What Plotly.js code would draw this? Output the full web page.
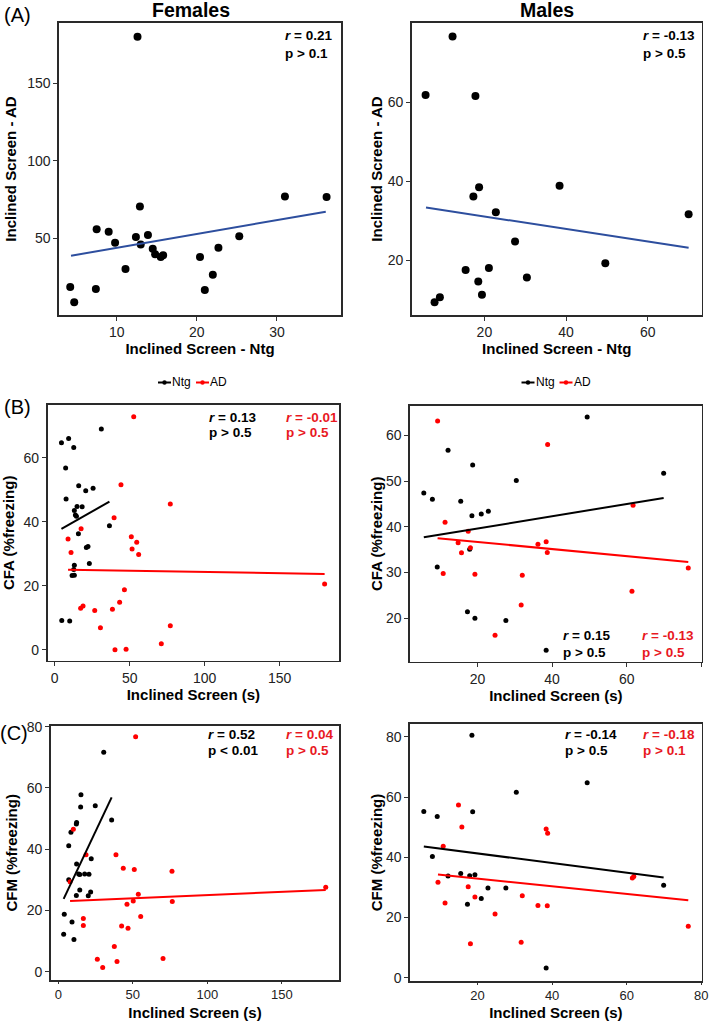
<!DOCTYPE html>
<html><head><meta charset="utf-8">
<script src="https://cdn.plot.ly/plotly-3.0.1.min.js"></script>
<style>html,body{margin:0;padding:0;background:#fff;} #chart{width:709px;height:1021px;}</style>
</head><body><div id="chart"></div>
<script>
// ---------- DATA ----------
// (A) Inclined screen, Ntg vs AD
const femNtgA = [4.2, 4.7, 7.5, 7.4, 9.0, 9.8, 11.1, 12.4, 12.6, 12.9, 13.0, 13.9, 14.5, 14.8, 15.5, 15.8, 20.4, 21.0, 22.0, 22.7, 25.3, 31.0, 36.2];
const femADA  = [18.7, 8.8, 55.8, 17.4, 54.3, 47.2, 30.3, 50.9, 180, 70.6, 46.1, 52.1, 43.3, 39.7, 38.0, 39.1, 38.0, 16.7, 26.6, 44.0, 51.3, 77.0, 76.6];
const femFitAX = [4.3, 36.1];
const femFitAY = [38.8, 67.2];
const maleNtgA = [5.6, 7.8, 9.1, 12.2, 15.4, 17.3, 17.8, 18.5, 18.7, 19.4, 21.1, 22.8, 27.5, 30.4, 38.4, 49.6, 70.0];
const maleADA  = [61.9, 9.4, 10.7, 76.7, 17.6, 36.2, 61.6, 14.7, 38.5, 11.3, 18.1, 32.2, 24.8, 15.7, 38.9, 19.3, 31.7];
const maleFitAX = [5.7, 70.0];
const maleFitAY = [33.4, 23.2];

// (B) CFA
const cfaFemNtgX = [4.5, 9.3, 12.7, 7.3, 31.1, 16.0, 20.7, 25.6, 7.6, 14.9, 18.3, 13.1, 13.8, 14.5, 36.5, 15.8, 21.1, 22.2, 23.1, 13.1, 12.7, 11.6, 13.1, 4.7, 10.0];
const cfaFemNtgY = [64.7, 66.0, 63.2, 56.8, 69.0, 51.3, 49.7, 50.5, 47.1, 44.8, 44.7, 43.5, 42.1, 41.7, 38.8, 36.3, 32.0, 32.3, 27.0, 26.4, 25.1, 23.2, 23.3, 9.2, 9.0];
const cfaFemADX = [52.7, 44.2, 77.1, 39.6, 17.6, 8.9, 51.1, 54.7, 51.6, 56.0, 10.9, 46.5, 43.3, 18.9, 17.3, 26.7, 38.5, 30.5, 77.1, 40.2, 47.6, 71.1, 180.0];
const cfaFemADY = [72.8, 51.6, 45.6, 41.3, 37.8, 34.6, 35.3, 33.6, 31.5, 29.8, 30.4, 18.8, 14.9, 13.7, 13.0, 12.3, 12.7, 6.9, 7.5, 0.0, 0.2, 1.9, 20.6];
const cfaFemNtgFitX = [4.5, 36.5];
const cfaFemNtgFitY = [37.8, 46.3];
const cfaFemADFitX = [8.9, 180.0];
const cfaFemADFitY = [25.0, 23.7];

const cfaMaleNtgX = [5.6, 7.9, 12.1, 18.7, 15.5, 18.5, 21.0, 22.9, 30.4, 9.2, 17.9, 17.3, 19.3, 27.6, 38.4, 49.4, 69.9];
const cfaMaleNtgY = [47.4, 46.0, 56.7, 53.5, 45.6, 42.4, 42.8, 43.4, 50.1, 31.2, 35.1, 21.4, 20.0, 19.5, 13.0, 64.0, 51.7];
const cfaMaleADX = [9.3, 38.8, 11.3, 17.5, 14.8, 18.1, 15.7, 36.2, 38.4, 38.7, 10.8, 19.3, 32.0, 31.7, 24.7, 61.7, 61.4, 76.5];
const cfaMaleADY = [63.1, 58.0, 41.0, 39.0, 36.5, 35.4, 34.3, 36.2, 36.7, 34.4, 29.8, 29.6, 29.4, 22.9, 16.3, 44.7, 25.9, 31.0];
const cfaMaleNtgFitX = [5.6, 69.9];
const cfaMaleNtgFitY = [37.7, 46.3];
const cfaMaleADFitX = [9.3, 76.5];
const cfaMaleADFitY = [37.5, 32.3];

// (C) CFM
const cfmFemNtgX = [30.5, 15.2, 15.0, 24.8, 35.8, 12.3, 12.1, 8.5, 7.0, 22.1, 12.3, 13.7, 14.4, 17.7, 20.6, 7.0, 14.4, 21.7, 12.1, 20.1, 4.0, 9.2, 3.6, 10.5];
const cfmFemNtgY = [71.6, 57.8, 53.8, 54.2, 49.5, 48.7, 48.2, 45.5, 41.1, 36.9, 35.2, 31.9, 31.7, 31.9, 31.8, 30.0, 26.7, 26.0, 24.9, 24.8, 18.8, 16.2, 12.2, 10.5];
const cfmFemADX = [51.9, 10.1, 38.7, 18.6, 43.6, 51.0, 76.3, 7.9, 53.7, 50.3, 76.5, 46.1, 55.3, 16.8, 16.8, 42.5, 46.8, 37.6, 26.2, 39.4, 29.8, 70.3, 179.5];
const cfmFemADY = [76.7, 46.5, 38.2, 38.2, 33.8, 33.4, 32.8, 29.4, 25.3, 23.1, 22.9, 22.0, 18.0, 17.4, 15.1, 14.9, 14.2, 8.2, 4.1, 3.3, 1.4, 4.3, 27.6];
const cfmFemNtgFitX = [3.6, 35.8];
const cfmFemNtgFitY = [23.8, 56.9];
const cfmFemADFitX = [7.9, 179.5];
const cfmFemADFitY = [23.1, 26.7];

const cfmMaleNtgX = [18.5, 30.4, 5.6, 9.2, 18.7, 7.9, 12.1, 15.5, 17.9, 19.3, 22.8, 27.6, 21.0, 17.3, 38.4, 49.4, 69.9];
const cfmMaleNtgY = [80.6, 61.6, 55.2, 53.6, 55.1, 40.3, 33.8, 34.6, 33.9, 34.2, 29.8, 29.8, 26.3, 24.4, 3.2, 64.8, 30.7];
const cfmMaleADX = [14.9, 15.8, 38.4, 38.8, 10.8, 9.4, 17.5, 19.3, 32.0, 11.3, 36.2, 38.7, 24.7, 31.7, 18.1, 61.5, 61.9, 76.5];
const cfmMaleADY = [57.4, 50.1, 49.4, 48.0, 43.7, 31.7, 30.2, 26.8, 27.2, 24.8, 24.0, 23.9, 21.2, 11.8, 11.3, 33.1, 33.6, 17.1];
const cfmMaleNtgFitX = [5.6, 69.9];
const cfmMaleNtgFitY = [43.6, 33.3];
const cfmMaleADFitX = [9.4, 76.5];
const cfmMaleADFitY = [34.3, 25.7];

// tick labels
const ticksAFemX = [10, 20, 30];
const ticksAFemY = [50, 100, 150];
const ticksAMaleX = [20, 40, 60];
const ticksAMaleY = [20, 40, 60];
const ticksFemX = [0, 50, 100, 150];
const ticksMaleX = [20, 40, 60, 80];
const ticksBFemY = [0, 20, 40, 60];
const ticksBMaleY = [20, 30, 40, 50, 60];
const ticksCY = [0, 20, 40, 60, 80];

const groupNames = ['Ntg', 'AD'];
const statsA = [['0.21', 'p > 0.1'], ['-0.13', 'p > 0.5']];
const statsB = [['0.13', 'p > 0.5', '-0.01', 'p > 0.5'], ['0.15', 'p > 0.5', '-0.13', 'p > 0.5']];
const statsC = [['0.52', 'p &lt; 0.01', '0.04', 'p > 0.5'], ['-0.14', 'p > 0.5', '-0.18', 'p > 0.1']];

// ---------- LAYOUT HELPERS ----------
const W = 709, H = 1021;
const FONT = 'Liberation Sans, Arial, Helvetica, sans-serif';
const BLACK = '#000000', RED = '#FF0000', RED_TXT = '#E8191F', BLUE = '#2D4E9E';
const dX = (a, b) => [a / W, b / W];
const dY = (top, bottom) => [1 - bottom / H, 1 - top / H];
const PX = x => x / W, PY = y => 1 - y / H;

function axis(domain, range, tickvals, titleText, standoff, ticklen, tickSize) {
  return {
    domain: domain, range: range, tickmode: 'array', tickvals: tickvals,
    ticktext: tickvals.map(String), showgrid: false, zeroline: false,
    showline: true, mirror: true, linecolor: '#2a2a2a', linewidth: 1.6,
    ticks: 'outside', ticklen: ticklen || 4, tickwidth: 1, tickcolor: '#333',
    tickfont: {family: FONT, size: tickSize || 14, color: '#222'}, fixedrange: true,
    automargin: false,
    title: {text: titleText, font: {family: FONT, size: 15, color: '#000', weight: 'bold'}, standoff: standoff}
  };
}

function pts(x, y, ax, color, size, name) {
  return {type: 'scatter', mode: 'markers', x: x, y: y, xaxis: ax[0], yaxis: ax[1],
    marker: {color: color, size: size}, name: name, showlegend: false, hoverinfo: 'x+y'};
}
function fit(x, y, ax, color, w) {
  return {type: 'scatter', mode: 'lines', x: x, y: y, xaxis: ax[0], yaxis: ax[1],
    line: {color: color, width: w}, showlegend: false, hoverinfo: 'skip'};
}

const A1 = ['x', 'y'], A2 = ['x2', 'y2'], B1 = ['x3', 'y3'], B2 = ['x4', 'y4'], C1 = ['x5', 'y5'], C2 = ['x6', 'y6'];

const data = [
  pts(femNtgA, femADA, A1, BLACK, 8, 'Females'),
  fit(femFitAX, femFitAY, A1, BLUE, 2),
  pts(maleNtgA, maleADA, A2, BLACK, 8, 'Males'),
  fit(maleFitAX, maleFitAY, A2, BLUE, 2),

  pts(cfaFemNtgX, cfaFemNtgY, B1, BLACK, 5, groupNames[0]),
  pts(cfaFemADX, cfaFemADY, B1, RED, 5, groupNames[1]),
  fit(cfaFemNtgFitX, cfaFemNtgFitY, B1, BLACK, 2),
  fit(cfaFemADFitX, cfaFemADFitY, B1, RED, 2),
  pts(cfaMaleNtgX, cfaMaleNtgY, B2, BLACK, 5, groupNames[0]),
  pts(cfaMaleADX, cfaMaleADY, B2, RED, 5, groupNames[1]),
  fit(cfaMaleNtgFitX, cfaMaleNtgFitY, B2, BLACK, 2),
  fit(cfaMaleADFitX, cfaMaleADFitY, B2, RED, 2),

  pts(cfmFemNtgX, cfmFemNtgY, C1, BLACK, 5, groupNames[0]),
  pts(cfmFemADX, cfmFemADY, C1, RED, 5, groupNames[1]),
  fit(cfmFemNtgFitX, cfmFemNtgFitY, C1, BLACK, 2),
  fit(cfmFemADFitX, cfmFemADFitY, C1, RED, 2),
  pts(cfmMaleNtgX, cfmMaleNtgY, C2, BLACK, 5, groupNames[0]),
  pts(cfmMaleADX, cfmMaleADY, C2, RED, 5, groupNames[1]),
  fit(cfmMaleNtgFitX, cfmMaleNtgFitY, C2, BLACK, 2),
  fit(cfmMaleADFitX, cfmMaleADFitY, C2, RED, 2)
];

// ---------- ANNOTATIONS ----------
const annotations = [];
function txt(text, x, y, opts) {
  annotations.push(Object.assign({xref: 'paper', yref: 'paper', x: PX(x), y: PY(y), text: text,
    showarrow: false, xanchor: 'left', yanchor: 'middle',
    font: {family: FONT, size: 13, color: '#000'}}, opts || {}));
}
function stat(r, p, x, y1, y2, color) {
  txt('<b><i>r</i> = ' + r + '</b>', x - 2, y1, {font: {family: FONT, size: 13.5, color: color}});
  txt('<b>' + p + '</b>', x - 2, y2, {font: {family: FONT, size: 13.5, color: color}});
}
// headers & panel letters
txt('<b>Females</b>', 191, 10, {xanchor: 'center', font: {family: FONT, size: 19.5, color: '#000'}});
txt('<b>Males</b>', 547, 10, {xanchor: 'center', font: {family: FONT, size: 19.5, color: '#000'}});
txt('(A)', 17, 15, {xanchor: 'center', font: {family: FONT, size: 20, color: '#000'}});
txt('(B)', 17, 407, {xanchor: 'center', font: {family: FONT, size: 20, color: '#000'}});
txt('(C)', 14, 733, {xanchor: 'center', font: {family: FONT, size: 20, color: '#000'}});
// stats
stat(statsA[0][0], statsA[0][1], 285, 35, 53, '#000');
stat(statsA[1][0], statsA[1][1], 643, 35, 53, '#000');
stat(statsB[0][0], statsB[0][1], 209, 417, 433, '#000');
stat(statsB[0][2], statsB[0][3], 286, 417, 433, RED_TXT);
stat(statsB[1][0], statsB[1][1], 563, 635, 652, '#000');
stat(statsB[1][2], statsB[1][3], 642, 635, 652, RED_TXT);
stat(statsC[0][0], statsC[0][1], 208, 734, 750, '#000');
stat(statsC[0][2], statsC[0][3], 286, 734, 750, RED_TXT);
stat(statsC[1][0], statsC[1][1], 565, 734, 750, '#000');
stat(statsC[1][2], statsC[1][3], 643, 734, 750, RED_TXT);

// legends (drawn as keys + labels)
const shapes = [];
function legendKey(x0, y, color) {
  shapes.push({type: 'line', xref: 'paper', yref: 'paper', x0: PX(x0), x1: PX(x0 + 13), y0: PY(y), y1: PY(y), line: {color: color, width: 2}});
  shapes.push({type: 'circle', xref: 'paper', yref: 'paper', x0: PX(x0 + 4.3), x1: PX(x0 + 8.7), y0: PY(y + 2.2), y1: PY(y - 2.2), fillcolor: color, line: {color: color, width: 0}});
}
[158, 521.5].forEach(function (lx) {
  legendKey(lx, 382.5, BLACK);
  txt(groupNames[0], lx + 13, 382.5, {font: {family: FONT, size: 12, color: '#000'}, xshift: -1});
  legendKey(lx + 38, 382.5, RED);
  txt(groupNames[1], lx + 51, 382.5, {font: {family: FONT, size: 12, color: '#000'}, xshift: -1});
});

const layout = {
  width: W, height: H, autosize: false,
  margin: {l: 0, r: 0, t: 0, b: 0},
  paper_bgcolor: '#fff', plot_bgcolor: '#fff',
  showlegend: false, hovermode: 'closest',
  font: {family: FONT, color: '#000'},
  xaxis:  Object.assign(axis(dX(59, 341), [2.8, 38.0], ticksAFemX, 'Inclined Screen - Ntg', 4), {anchor: 'y'}),
  yaxis:  Object.assign(axis(dY(23, 315), [0.6, 188.8], ticksAFemY, 'Inclined Screen - AD', 7), {anchor: 'x'}),
  xaxis2: Object.assign(axis(dX(411.7, 701.7), [2.2, 73.2], ticksAMaleX, 'Inclined Screen - Ntg', 4), {anchor: 'y2'}),
  yaxis2: Object.assign(axis(dY(23, 315), [6.2, 80.1], ticksAMaleY, 'Inclined Screen - AD', 1), {anchor: 'x2'}),
  xaxis3: Object.assign(axis(dX(47.5, 339.3), [-4.8, 189.8], ticksFemX, 'Inclined Screen (s)', 4), {anchor: 'y3'}),
  yaxis3: Object.assign(axis(dY(405, 660.7), [-3.4, 76.5], ticksBFemY, 'CFA (%freezing)', 5), {anchor: 'x3'}),
  xaxis4: Object.assign(axis(dX(410, 701.7), [1.9, 80.1], ticksMaleX, 'Inclined Screen (s)', 4), {anchor: 'y4'}),
  yaxis4: Object.assign(axis(dY(406, 661.7), [10.5, 66.4], ticksBMaleY, 'CFA (%freezing)', 0), {anchor: 'x4'}),
  xaxis5: Object.assign(axis(dX(50.7, 339.3), [-5.1, 188.6], ticksFemX, 'Inclined Screen (s)', 8, 2, 13), {anchor: 'y5'}),
  yaxis5: Object.assign(axis(dY(725.7, 980), [-2.7, 80.3], ticksCY, 'CFM (%freezing)', 5), {anchor: 'x5'}),
  xaxis6: Object.assign(axis(dX(410, 701.7), [1.9, 80.1], ticksMaleX, 'Inclined Screen (s)', 8, 2, 13), {anchor: 'y6'}),
  yaxis6: Object.assign(axis(dY(724, 981), [-1.1, 84.3], ticksCY, 'CFM (%freezing)', 0), {anchor: 'x6'}),
  annotations: annotations,
  shapes: shapes
};

Plotly.newPlot('chart', data, layout, {displayModeBar: false, staticPlot: true});
</script>
</body></html>
